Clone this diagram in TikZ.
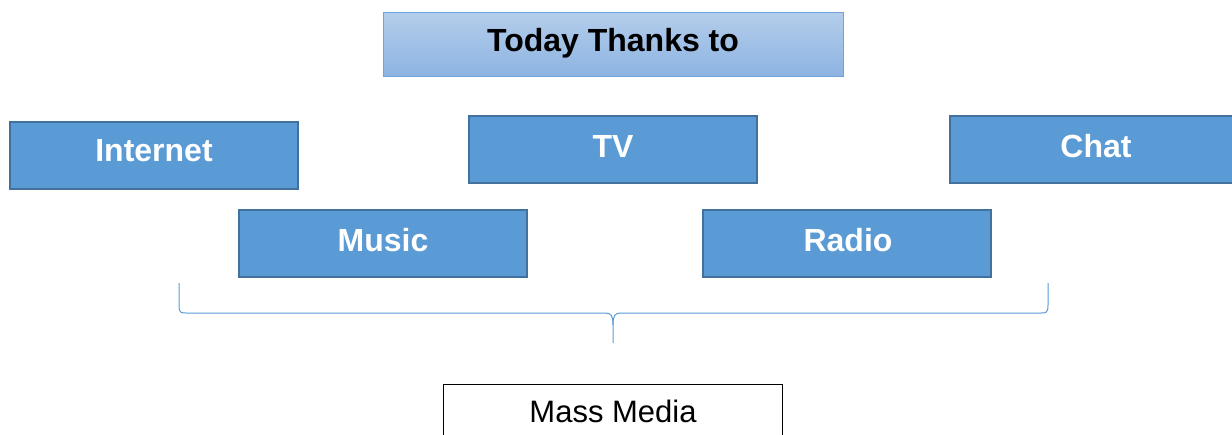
\documentclass[tikz,border=0pt]{standalone}
\usepackage{fontspec}
\setmainfont{Liberation Sans}
\definecolor{boxfill}{HTML}{5B9BD5}
\definecolor{boxline}{HTML}{41719C}
\definecolor{toptop}{HTML}{B4CDEB}
\definecolor{topbot}{HTML}{8DB4E2}
\definecolor{topline}{HTML}{6FA3DC}
\definecolor{bracecol}{HTML}{5B9BD5}
\tikzset{
  itembox/.style={draw=boxline, line width=2pt, fill=boxfill, minimum width=288pt, minimum height=67pt, inner sep=0pt},
  itemtext/.style={inner sep=0pt, font=\fontsize{32}{36}\selectfont\bfseries, text=white},
  titlebox/.style={draw=topline, line width=1pt, top color=toptop, bottom color=topbot, minimum width=460pt, minimum height=64pt, inner sep=0pt},
  titletextstyle/.style={inner sep=0pt, font=\fontsize{32}{36}\selectfont\bfseries, text=black},
  massbox/.style={draw=black, line width=1pt, fill=white, minimum width=339pt, minimum height=70pt, inner sep=0pt},
  masstextstyle/.style={inner sep=0pt, font=\fontsize{31}{36}\selectfont, text=black},
  bracestyle/.style={draw=bracecol, line width=1pt}
}
\begin{document}
\begin{tikzpicture}[x=1pt,y=-1pt]
\useasboundingbox (0,0) rectangle (1232,434);
\clip (0,0) rectangle (1232,434);
\node[titlebox] (title) at (613,44) {};
\node[titletextstyle] (titletext) at (613,43) {Today Thanks to};
\node[itembox] (internet) at (154,155.5) {};
\node[itemtext] (internettext) at (154,151) {Internet};
\node[itembox] (tv) at (613,149.5) {};
\node[itemtext] (tvtext) at (613,146) {TV};
\node[itembox] (chat) at (1094,149.5) {};
\node[itemtext] (chattext) at (1096,146) {Chat};
\node[itembox] (music) at (383,243.5) {};
\node[itemtext] (musictext) at (383,240) {Music};
\node[itembox] (radio) at (847,243.5) {};
\node[itemtext] (radiotext) at (848,240) {Radio};
\node[massbox] (mass) at (612.5,419) {};
\node[masstextstyle] (masstext) at (613,411) {Mass Media};
\coordinate (bl) at (179,283);
\coordinate (br) at (1048,283);
\coordinate (bt) at (613,343);
\draw[bracestyle] (bl) -- (179,305) .. controls (179,313) and (181,313) .. (186,313) -- (605,313) .. controls (611,313) and (613,315) .. (613,325) -- (bt);
\draw[bracestyle] (br) -- (1048,305) .. controls (1048,313) and (1046,313) .. (1041,313) -- (621,313) .. controls (615,313) and (613,315) .. (613,325);
\end{tikzpicture}
\end{document}
